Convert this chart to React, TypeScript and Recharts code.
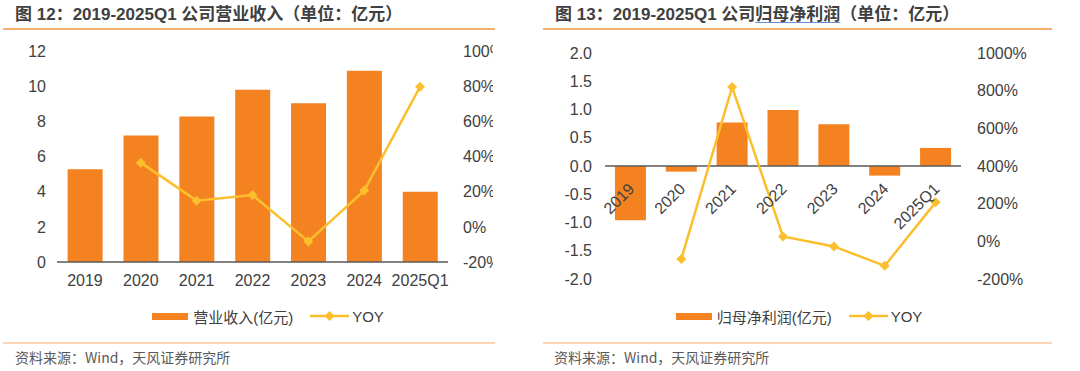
import React from 'react';
import { ComposedChart, Bar, Line, XAxis, YAxis, Legend, ReferenceLine } from 'recharts';

const categories = ['2019', '2020', '2021', '2022', '2023', '2024', '2025Q1'];
const revenue = [5.27, 7.2, 8.28, 9.79, 9.03, 10.87, 3.99];
const revenueYoy: (number | null)[] = [null, 36.5, 14.9, 18.1, -8.3, 20.6, 79.7];
const revTicksLeft = [0, 2, 4, 6, 8, 10, 12];
const revTicksRight = [-20, 0, 20, 40, 60, 80, 100];

const profit = [-0.96, -0.1, 0.77, 0.99, 0.74, -0.17, 0.32];
const profitYoy: (number | null)[] = [null, -94, 819, 26, -27, -130, 207];
const profitTicksLeft = [-2, -1.5, -1, -0.5, 0, 0.5, 1, 1.5, 2];
const profitTicksRight = [-200, 0, 200, 400, 600, 800, 1000];

const revData = categories.map((c, i) => ({ name: c, bar: revenue[i], yoy: revenueYoy[i] }));
const profData = categories.map((c, i) => ({ name: c, bar: profit[i], yoy: profitYoy[i] }));

const BAR = '#F58220';
const LINE = '#FBBF2D';
const AXIS = '#595959';
const TXT = '#404040';
const FONT = "'Liberation Sans', Arial, 'Noto Sans CJK SC', sans-serif";
const TFONT = "'Liberation Sans', Arial, 'Noto Sans CJK SC', sans-serif";

const Diamond = (props: any) => {
  const { cx, cy, value, index } = props;
  if (cx == null || cy == null || value == null) return <g key={'d' + index} />;
  const r = 5;
  return (
    <polygon
      key={'d' + index}
      points={`${cx},${cy - r} ${cx + r},${cy} ${cx},${cy + r} ${cx - r},${cy}`}
      fill={LINE}
    />
  );
};

const LegendContent = (props: any) => {
  const payload = [...(props.payload || [])].sort((a: any, b: any) => (a.type === 'rect' ? -1 : 0) - (b.type === 'rect' ? -1 : 0));
  return (
    <div style={{ display: 'flex', justifyContent: 'center', alignItems: 'center', fontFamily: FONT, fontSize: 15, color: TXT, height: 20 }}>
      {payload.map((p: any, i: number) => (
        <div key={i} style={{ display: 'flex', alignItems: 'center', marginLeft: i === 0 ? 0 : 17 }}>
          {p.type === 'rect' ? (
            <span style={{ display: 'inline-block', width: 36, height: 7, background: BAR, marginRight: 5 }} />
          ) : (
            <svg width={39} height={12} style={{ marginRight: 3 }}>
              <line x1={0} y1={6} x2={39} y2={6} stroke={LINE} strokeWidth={2.5} />
              <polygon points="19.5,1 24.5,6 19.5,11 14.5,6" fill={LINE} />
            </svg>
          )}
          <span>{p.value}</span>
        </div>
      ))}
    </div>
  );
};

// layout constants for the profit chart (plot area)
const PR_H = 335;
const PR_TOP = 53;
const PR_BOTTOM = 279;
const PR_MIN = -2;
const PR_MAX = 2;
const ZERO_Y = PR_TOP + ((PR_BOTTOM - PR_TOP) * PR_MAX) / (PR_MAX - PR_MIN);

const RotTick = (props: any) => {
  const { x, payload } = props;
  const tx = x + 1;
  const ty = ZERO_Y + 20;
  return (
    <text
      x={tx}
      y={ty}
      transform={`rotate(-45 ${tx} ${ty})`}
      textAnchor="end"
      dominantBaseline="central"
      fontSize={16}
      fontFamily={FONT}
      fill={TXT}
    >
      {payload.value}
    </text>
  );
};

const Title = ({ left, children }: any) => (
  <div style={{ position: 'absolute', left, top: 4, fontFamily: TFONT, fontWeight: 'bold', fontSize: 17, color: '#404040', whiteSpace: 'nowrap', lineHeight: '22px' }}>
    {children}
  </div>
);

const Source = ({ left }: any) => (
  <div style={{ position: 'absolute', left, top: 347, fontFamily: "'Noto Sans CJK SC', 'Liberation Sans', sans-serif", fontSize: 14, color: '#595959', whiteSpace: 'nowrap', lineHeight: '20px' }}>
    资料来源：Wind，天风证券研究所
  </div>
);

export default function App() {
  return (
    <div style={{ position: 'fixed', left: 0, top: 0, width: 1080, height: 371, background: '#fff', overflow: 'hidden' }}>
      {/* Left panel */}
      <Title left={15}>图 12：2019-2025Q1 公司营业收入（单位：亿元）</Title>
      <div style={{ position: 'absolute', left: 3, top: 28, width: 492, height: 2, background: '#F4AE70' }} />
      <div style={{ position: 'absolute', left: 0, top: 0, width: 493, height: 335, overflow: 'hidden' }}>
        <ComposedChart width={540} height={335} data={revData} margin={{ top: 51, right: 0, left: 0, bottom: 43 }} barCategoryGap="19%">
          <XAxis dataKey="name" height={30} tickLine={false} axisLine={{ stroke: AXIS, strokeWidth: 1.5 }} tickMargin={7}
            tick={{ fontSize: 16, fontFamily: FONT, fill: TXT }} interval={0} />
          <YAxis yAxisId="left" width={57} domain={[0, 12]} ticks={revTicksLeft} axisLine={false} tickLine={false} tickMargin={5}
            tick={{ fontSize: 16, fontFamily: FONT, fill: TXT }} />
          <YAxis yAxisId="right" orientation="right" width={92} domain={[-20, 100]} ticks={revTicksRight} axisLine={false} tickLine={false}
            tickMargin={9} tickFormatter={(v: number) => `${v}%`} tick={{ fontSize: 16, fontFamily: FONT, fill: TXT, textAnchor: 'start' }} />
          <Bar yAxisId="left" dataKey="bar" name="营业收入(亿元)" fill={BAR} isAnimationActive={false} legendType="rect" />
          <Line yAxisId="right" dataKey="yoy" name="YOY" stroke={LINE} strokeWidth={2.5} dot={Diamond} activeDot={false}
            isAnimationActive={false} connectNulls={false} legendType="diamond" />
          <Legend verticalAlign="middle" align="center" content={LegendContent}
            wrapperStyle={{ position: 'absolute', top: 306, left: 0, width: 536, height: 20 }} />
        </ComposedChart>
      </div>
      <div style={{ position: 'absolute', left: 3, top: 342, width: 492, height: 2, background: '#FBD4B4' }} />
      <Source left={15} />

      {/* Right panel */}
      <Title left={555}>
        图 13：2019-2025Q1 公司<span style={{ textDecoration: 'underline', textDecorationColor: '#6A8FD0', textUnderlineOffset: 2 }}>归母净利润</span>（单位：亿元）
      </Title>
      <div style={{ position: 'absolute', left: 543, top: 28, width: 509, height: 2, background: '#F4AE70' }} />
      <div style={{ position: 'absolute', left: 540, top: 0, width: 540, height: 335, overflow: 'hidden' }}>
        <ComposedChart width={540} height={PR_H} data={profData} margin={{ top: PR_TOP, right: 0, left: 0, bottom: PR_H - PR_BOTTOM - 1 }} barCategoryGap="19.5%">
          <XAxis dataKey="name" height={1} tickLine={false} axisLine={false} tick={RotTick} interval={0} />
          <YAxis yAxisId="left" width={65} domain={[PR_MIN, PR_MAX]} ticks={profitTicksLeft} axisLine={false} tickLine={false} tickMargin={7}
            tickFormatter={(v: number) => v.toFixed(1)} tick={{ fontSize: 16, fontFamily: FONT, fill: TXT }} />
          <YAxis yAxisId="right" orientation="right" width={119} domain={[-200, 1000]} ticks={profitTicksRight} axisLine={false} tickLine={false}
            tickMargin={10} tickFormatter={(v: number) => `${v}%`} tick={{ fontSize: 16, fontFamily: FONT, fill: TXT, textAnchor: 'start' }} />
          <ReferenceLine yAxisId="left" y={0} stroke={AXIS} strokeWidth={1.5} />
          <Bar yAxisId="left" dataKey="bar" name="归母净利润(亿元)" fill={BAR} isAnimationActive={false} legendType="rect" />
          <Line yAxisId="right" dataKey="yoy" name="YOY" stroke={LINE} strokeWidth={2.5} dot={Diamond} activeDot={false}
            isAnimationActive={false} connectNulls={false} legendType="diamond" />
          <Legend verticalAlign="middle" align="center" content={LegendContent}
            wrapperStyle={{ position: 'absolute', top: 306, left: 0, width: 518, height: 20 }} />
        </ComposedChart>
      </div>
      <div style={{ position: 'absolute', left: 543, top: 342, width: 509, height: 2, background: '#FBD4B4' }} />
      <Source left={554} />
    </div>
  );
}
